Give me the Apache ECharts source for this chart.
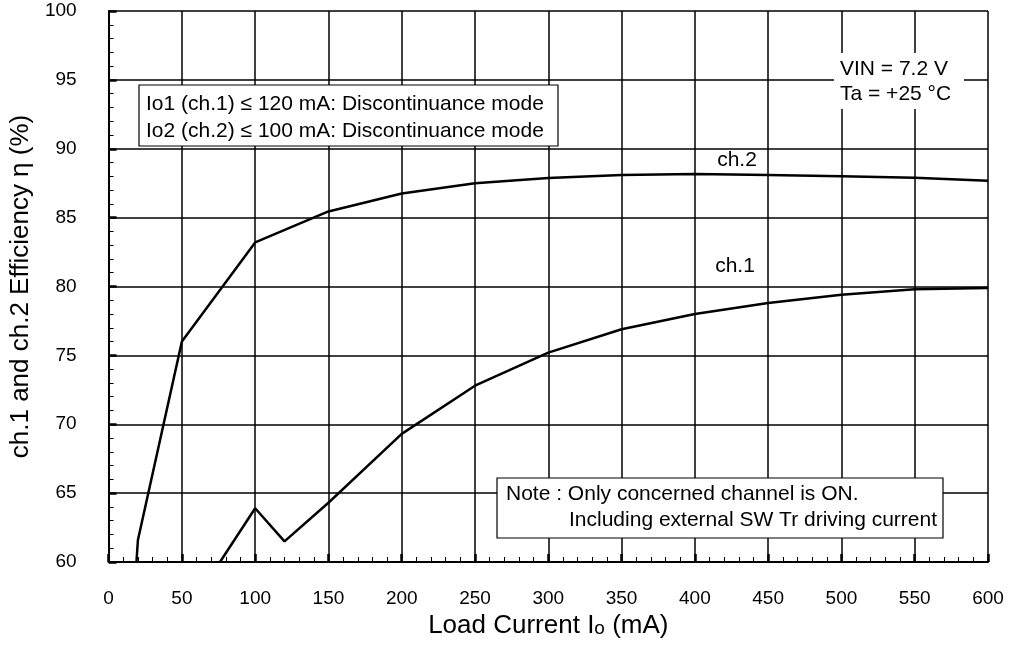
<!DOCTYPE html>
<html>
<head>
<meta charset="utf-8">
<script src="https://cdn.jsdelivr.net/npm/echarts@6/dist/echarts.min.js"></script>
<style>
  html, body { margin: 0; padding: 0; background: #fff; }
  #chart { width: 1013px; height: 645px; }
</style>
</head>
<body>
<div id="chart"></div>
<script>
// load current (mA) and efficiency (%)
const ch1Current = [76, 100, 120, 150, 200, 250, 300, 350, 400, 450, 500, 550, 600];
const ch1Eff = [60, 63.9, 61.5, 64.3, 69.3, 72.8, 75.2, 76.9, 78.0, 78.8, 79.4, 79.8, 79.9];
const ch2Current = [19, 20, 50, 100, 150, 200, 250, 300, 350, 400, 450, 500, 550, 600];
const ch2Eff = [60, 61.6, 76.0, 83.2, 85.45, 86.75, 87.5, 87.87, 88.1, 88.17, 88.1, 88.0, 87.9, 87.68];
const xTicks = [0, 50, 100, 150, 200, 250, 300, 350, 400, 450, 500, 550, 600];
const yTicks = [60, 65, 70, 75, 80, 85, 90, 95, 100];

const FONT = "'Liberation Sans', Arial, sans-serif";
const chart = echarts.init(document.getElementById("chart"));

const pairs = (xs, ys) => xs.map((x, i) => [x, ys[i]]);

function axisCommon(ticks, margin) {
  return {
    min: ticks[0],
    max: ticks[ticks.length - 1],
    interval: ticks[1] - ticks[0],
    axisLine: { show: true, lineStyle: { color: "#000", width: 2 } },
    axisTick: { show: true, inside: true, length: 8, lineStyle: { color: "#000", width: 2.5 } },
    minorTick: { show: true, splitNumber: 5, length: 5, lineStyle: { color: "#000", width: 1 } },
    splitLine: { show: true, lineStyle: { color: "#000", width: 1.5 } },
    axisLabel: { color: "#000", fontSize: 19, fontFamily: FONT, margin: margin }
  };
}

const txt = (text, x, y, extra) => ({
  type: "text", x: x, y: y, z: 11,
  style: Object.assign({ text: text, fill: "#000", fontSize: 21, fontFamily: FONT }, extra || {})
});

chart.setOption({
  animation: false,
  backgroundColor: "#fff",
  grid: { left: 106, top: 11, right: 25, bottom: 83 },
  xAxis: Object.assign(axisCommon(xTicks, 27), {
    type: "value",
    name: "Load Current I{s|o} (mA)",
    nameLocation: "middle",
    nameGap: 50,
    nameTextStyle: {
      color: "#000", fontSize: 26, fontFamily: FONT,
      rich: { s: { fontSize: 19, fontFamily: FONT, color: "#000", padding: [5, 0, 0, 0] } }
    }
  }),
  yAxis: Object.assign(axisCommon(yTicks, 32), {
    type: "value",
    name: "ch.1 and ch.2 Efficiency η (%)",
    nameLocation: "middle",
    nameGap: 68,
    nameTextStyle: { color: "#000", fontSize: 26, fontFamily: FONT }
  }),
  series: [
    {
      name: "ch.1", type: "line", data: pairs(ch1Current, ch1Eff),
      showSymbol: false, lineStyle: { color: "#000", width: 2.5 }, z: 5
    },
    {
      name: "ch.2", type: "line", data: pairs(ch2Current, ch2Eff),
      showSymbol: false, lineStyle: { color: "#000", width: 2.5 }, z: 5
    }
  ],
  graphic: [
    txt("ch.2", 737, 160, { align: "center", verticalAlign: "middle" }),
    txt("ch.1", 735, 266, { align: "center", verticalAlign: "middle" }),
    { type: "rect", z: 10, shape: { x: 139, y: 85, width: 419, height: 61 },
      style: { fill: "#fff", stroke: "#000", lineWidth: 1.2 } },
    txt("Io1 (ch.1) ≤ 120 mA: Discontinuance mode\nIo2 (ch.2) ≤ 100 mA: Discontinuance mode", 146, 91,
      { lineHeight: 27 }),
    { type: "rect", z: 10, shape: { x: 834, y: 53, width: 130, height: 56 },
      style: { fill: "#fff", stroke: null } },
    txt("VIN = 7.2 V\nTa = +25 °C", 840, 57, { lineHeight: 25 }),
    { type: "rect", z: 10, shape: { x: 497, y: 478, width: 446, height: 60 },
      style: { fill: "#fff", stroke: "#000", lineWidth: 1.2 } },
    txt("Note : Only concerned channel is ON.", 506, 484),
    txt("Including external SW Tr driving current", 569, 510)
  ]
});
</script>
</body>
</html>
